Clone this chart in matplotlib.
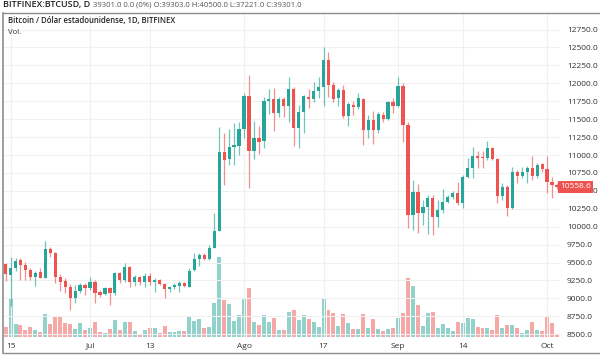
import numpy as np
import pandas as pd
import matplotlib
matplotlib.use("Agg")
import matplotlib.pyplot as plt
import matplotlib.dates as mdates
import matplotlib.transforms as mtransforms
from matplotlib.lines import Line2D

# daily candles, BITFINEX BTC/USD, 2020-06-14 .. 2020-10-03
dates = pd.date_range("2020-06-14", "2020-10-03", freq="D")

opens = [9475, 9326, 9428, 9535, 9466, 9396, 9303, 9373, 9289, 9689,
         9629, 9303, 9242, 9163, 9000, 9103, 9186, 9140, 9224, 9084,
         9056, 9140, 9070, 9349, 9256, 9442, 9233, 9294, 9233, 9312,
         9233, 9256, 9201, 9126, 9154, 9173, 9219, 9163, 9396, 9545,
         9605, 9545, 9708, 9945, 11047, 10940, 11116, 11130, 11363, 11823,
         11056, 11242, 11196, 11754, 11781, 11591, 11781, 11684, 11916, 11382,
         11595, 11814, 11777, 11893, 11944, 12325, 11977, 11791, 11907, 11544,
         11698, 11674, 11777, 11349, 11488, 11349, 11558, 11498, 11744, 11684,
         11963, 11419, 10163, 10489, 10196, 10279, 10405, 10140, 10233, 10349,
         10410, 10465, 10326, 10698, 10814, 10986, 10977, 10963, 11102, 10940,
         10428, 10549, 10256, 10768, 10712, 10758, 10814, 10712, 10870, 10800,
         10628, 10582]
highs = [9493, 9582, 9559, 9559, 9503, 9428, 9382, 9428, 9800, 9722,
         9652, 9336, 9280, 9196, 9187, 9210, 9210, 9303, 9256, 9117,
         9163, 9163, 9373, 9373, 9489, 9452, 9326, 9312, 9350, 9350,
         9280, 9270, 9219, 9173, 9210, 9242, 9233, 9419, 9638, 9638,
         9638, 9745, 10187, 11395, 11302, 11358, 11442, 11456, 11860, 12116,
         11475, 11409, 11814, 11916, 11930, 11814, 11814, 12093, 11953, 11698,
         11837, 11916, 12023, 12093, 12511, 12432, 12023, 11940, 11977, 11744,
         11758, 11860, 11791, 11558, 11619, 11605, 11605, 11758, 11791, 12093,
         12000, 11465, 10651, 10595, 10372, 10442, 10442, 10372, 10521, 10442,
         10502, 10628, 10721, 10954, 11116, 11056, 11056, 11195, 11116, 10954,
         10605, 10582, 10837, 10791, 10837, 10851, 10991, 10884, 10884, 10991,
         10698, 10610]
lows = [9242, 8900, 9382, 9256, 9256, 9256, 9173, 9280, 9280, 9582,
        9210, 9103, 9070, 8838, 8931, 9070, 9047, 9117, 8931, 9024,
        9047, 8908, 9047, 9210, 9233, 9163, 9173, 9187, 9163, 9187,
        9094, 9187, 9000, 9094, 9126, 9094, 9154, 9154, 9387, 9452,
        9535, 9535, 9698, 9945, 10582, 10861, 10861, 11000, 11233, 10544,
        10944, 11010, 11100, 11568, 11335, 11535, 11535, 11456, 11130, 11102,
        11302, 11660, 11744, 11791, 11688, 11814, 11744, 11688, 11512, 11405,
        11558, 11640, 11140, 11233, 11154, 11312, 11465, 11488, 11591, 11674,
        11186, 9977, 9954, 9917, 10023, 9898, 9884, 10000, 10186, 10326,
        10382, 10303, 10265, 10684, 10684, 10814, 10823, 10930, 10930, 10326,
        10372, 10154, 10247, 10605, 10675, 10605, 10651, 10684, 10768, 10465,
        10396, 10520]
closes = [9336, 9428, 9521, 9466, 9396, 9303, 9359, 9289, 9689, 9629,
          9303, 9233, 9163, 9000, 9103, 9186, 9140, 9224, 9070, 9047,
          9140, 9070, 9349, 9256, 9442, 9233, 9294, 9233, 9317, 9233,
          9256, 9201, 9136, 9154, 9187, 9219, 9173, 9387, 9545, 9605,
          9545, 9708, 9945, 11047, 10930, 11116, 11140, 11363, 11823, 11056,
          11242, 11186, 11754, 11781, 11591, 11781, 11684, 11916, 11382, 11595,
          11823, 11777, 11893, 11944, 12325, 11977, 11781, 11907, 11544, 11712,
          11674, 11791, 11349, 11488, 11349, 11572, 11498, 11744, 11684, 11963,
          11419, 10163, 10489, 10196, 10279, 10405, 10140, 10233, 10349, 10410,
          10465, 10326, 10698, 10814, 10986, 10963, 10963, 11102, 10940, 10428,
          10549, 10256, 10768, 10712, 10768, 10814, 10712, 10861, 10800, 10628,
          10582, 10558.6]
# volume (thousand BTC)
volumes = [10.3, 37.7, 12.7, 12.0, 6.7, 10.0, 7.3, 5.0, 22.7, 12.7,
           20.0, 21.0, 14.3, 12.7, 8.3, 14.3, 6.7, 8.7, 15.0, 5.0,
           4.3, 8.3, 16.7, 6.7, 15.0, 15.0, 6.0, 3.3, 7.3, 8.7,
           8.7, 4.3, 11.0, 5.0, 5.0, 6.0, 6.0, 20.7, 16.0, 17.7,
           8.7, 10.0, 34.0, 80.0, 37.3, 33.3, 16.0, 22.0, 39.3, 49.3,
           15.3, 12.0, 22.0, 15.0, 19.3, 7.3, 6.7, 25.0, 26.7, 16.7,
           22.0, 17.7, 15.3, 10.3, 37.7, 27.0, 24.0, 10.7, 23.3, 14.0,
           7.7, 7.7, 23.3, 9.3, 18.3, 8.3, 6.0, 8.3, 9.0, 19.0,
           23.7, 59.3, 51.0, 32.0, 10.7, 23.7, 25.3, 9.3, 13.3, 9.3,
           6.0, 15.3, 14.0, 18.7, 18.0, 10.0, 8.7, 9.3, 6.7, 22.3,
           9.3, 11.7, 12.3, 9.3, 4.0, 7.0, 15.0, 7.0, 6.0, 21.0,
           14.0, 3.3]

tick_dates = ["2020-06-15", "2020-07-01", "2020-07-13", "2020-08-01",
              "2020-08-17", "2020-09-01", "2020-09-14", "2020-10-01"]
tick_labels = ["15", "Jul", "13", "Ago", "17", "Sep", "14", "Oct"]

UP = "#26a69a"
DOWN = "#ef5350"

o = np.array(opens, float)
h = np.array(highs, float)
l = np.array(lows, float)
c = np.array(closes, float)
x = mdates.date2num(dates)
up = c >= o
cols = np.where(up, UP, DOWN)

plt.rcParams["font.family"] = ["Open Sans", "DejaVu Sans"]

fig = plt.figure(figsize=(6, 3.57), dpi=100)
W, H = 600, 357
rect = [3 / W, (H - 337) / H, 557 / W, 324 / H]

ax_vol = fig.add_axes(rect)
ax = fig.add_axes(rect, sharex=ax_vol)
ax.patch.set_visible(False)

# volume
ax_vol.bar(x, volumes, width=0.8, color=cols, alpha=0.5, linewidth=0)
ax_vol.set_ylim(0, 324)
ax_vol.set_yticks([])
for s in ax_vol.spines.values():
    s.set_visible(False)
ax_vol.tick_params(axis="x", length=0, labelbottom=False)

# candles
ax.vlines(x, l, h, colors=cols, linewidth=0.9, alpha=0.65)
body_lo = np.minimum(o, c)
body_h = np.maximum(np.abs(c - o), 12)
ax.bar(x, body_h, bottom=body_lo, width=0.65, color=cols, linewidth=0)

ax.set_ylim(8461, 12981)
ax.set_xlim(x[0] - 0.52, x[0] + 111.6)
ax.set_yticks(np.arange(8500, 12751, 250))
ax.yaxis.set_major_formatter(matplotlib.ticker.FormatStrFormatter("%.1f"))
ax.yaxis.tick_right()
ax.tick_params(axis="y", length=0, pad=5, labelsize=6, labelcolor="#333333")
ax.set_xticks(mdates.date2num(pd.to_datetime(tick_dates)))
ax.set_xticklabels(tick_labels)
ax.tick_params(axis="x", length=0, pad=4, labelsize=6, labelcolor="#333333")
ax.grid(True, color="#f0f0f0", linewidth=0.8)
ax.set_axisbelow(True)
for s in ax.spines.values():
    s.set_visible(False)

# last price tag, drawn over the axis label beneath it
trans = mtransforms.blended_transform_factory(ax.transAxes, ax.transData)
ax.text(1.0, c[-1], "%.1f" % c[-1], transform=trans, ha="left", va="center",
        color="white", fontsize=6, zorder=10, clip_on=False,
        bbox=dict(boxstyle="square,pad=0.3", fc=DOWN, ec="none"))

# pane frame
fig.add_artist(Line2D([3 / W, 3 / W], [1 - 13 / H, 1 - 353 / H], color="#8e8e8e", lw=1.2))
fig.add_artist(Line2D([3 / W, 1], [1 - 13 / H, 1 - 13 / H], color="#8e8e8e", lw=1.0))
fig.add_artist(Line2D([3 / W, 1], [1 - 353 / H, 1 - 353 / H], color="#8e8e8e", lw=1.0))

# header and legend texts
fig.text(3 / W, 1 - 5 / H, "BITFINEX:BTCUSD, D", fontsize=6.5, weight="semibold",
         color="#222222", va="center")
fig.text(93 / W, 1 - 5 / H, "39301.0 0.0 (0%) O:39303.0 H:40500.0 L:37221.0 C:39301.0",
         fontsize=5.6, color="#555555", va="center")
fig.text(8 / W, 1 - 20 / H, "Bitcoin / Dólar estadounidense, 1D, BITFINEX", fontsize=5.6,
         weight="semibold", color="#222222", va="center")
fig.text(8 / W, 1 - 33 / H, "Vol.", fontsize=5.6, color="#333333", va="center")

fig.savefig("out.png", dpi=100)
